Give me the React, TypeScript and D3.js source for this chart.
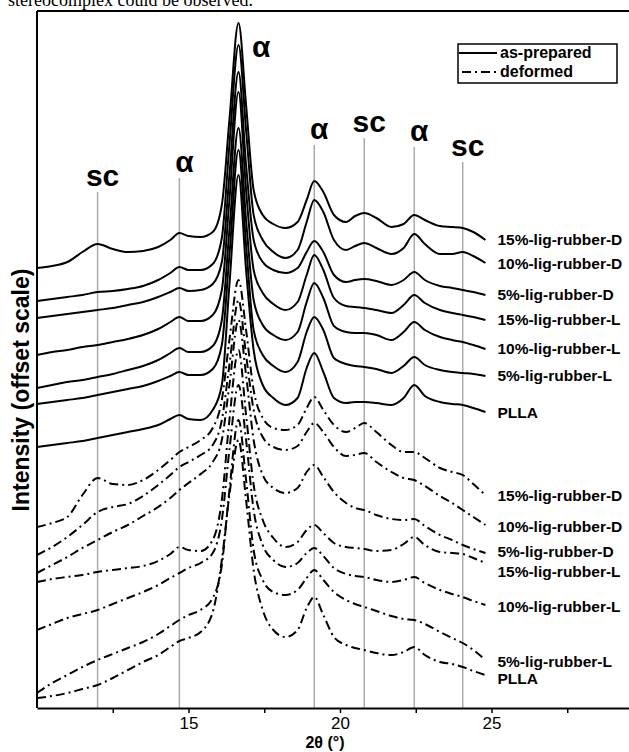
import React, { useEffect, useRef } from 'react';
import * as d3 from 'd3';

// 2θ sampling positions (degrees) shared by every pattern
const twoTheta = [10, 10.5, 11, 11.5, 12, 12.5, 13, 13.5, 14, 14.4, 14.7, 15, 15.4, 15.8, 16.1, 16.35, 16.65, 16.9, 17.15, 17.45, 17.8, 18.2, 18.6, 18.9, 19.15, 19.45, 19.8, 20.2, 20.5, 20.8, 21.2, 21.7, 22.1, 22.45, 22.8, 23.3, 23.7, 24.05, 24.4, 24.8];

// as-prepared patterns (offset intensity, a.u.)
const prep15D = [440, 442, 446, 456, 464, 459, 456, 457, 461, 468, 475, 472, 471, 476, 503, 588, 685, 603, 518, 493, 484, 480, 486, 508, 527, 516, 493, 486, 492, 495, 490, 481, 484, 493, 488, 482, 481, 480, 476, 468];
const prep10D = [407, 409, 411, 413, 416, 417, 419, 422, 428, 435, 441, 438, 438, 444, 470, 563, 663, 578, 493, 468, 456, 450, 458, 486, 508, 496, 468, 458, 462, 465, 460, 454, 460, 474, 464, 454, 454, 456, 452, 445];
const prep5D = [390, 392, 394, 396, 398, 400, 403, 406, 411, 416, 420, 417, 418, 424, 446, 533, 636, 543, 468, 446, 438, 435, 440, 456, 467, 456, 433, 426, 428, 429, 427, 423, 428, 436, 428, 422, 420, 418, 416, 413];
const prep15L = [353, 356, 358, 361, 363, 366, 369, 373, 379, 386, 391, 387, 387, 393, 418, 508, 616, 518, 438, 415, 404, 398, 406, 433, 453, 438, 410, 402, 401, 400, 398, 395, 403, 413, 405, 398, 395, 393, 391, 388];
const prep10L = [320, 323, 326, 328, 331, 334, 338, 342, 348, 355, 360, 356, 356, 362, 388, 478, 580, 488, 408, 383, 373, 368, 376, 406, 425, 410, 382, 376, 375, 375, 373, 368, 376, 386, 378, 371, 368, 366, 363, 359];
const prep5L = [304, 306, 308, 310, 313, 316, 319, 322, 327, 332, 336, 333, 333, 339, 363, 453, 558, 463, 378, 353, 342, 336, 346, 376, 391, 378, 350, 344, 342, 341, 339, 335, 342, 351, 343, 338, 336, 335, 334, 332];
const prepPLLA = [261, 263, 265, 267, 270, 273, 276, 279, 283, 289, 293, 289, 288, 298, 323, 423, 533, 438, 358, 323, 310, 303, 310, 340, 355, 336, 310, 305, 306, 306, 305, 303, 310, 323, 312, 306, 304, 303, 300, 296];

// deformed patterns
const def15D = [181, 185, 191, 213, 230, 224, 223, 228, 238, 248, 256, 261, 268, 280, 308, 368, 428, 378, 318, 290, 280, 278, 283, 300, 311, 298, 283, 276, 280, 285, 276, 263, 256, 256, 250, 240, 236, 233, 224, 213];
const def10D = [153, 161, 171, 183, 196, 201, 204, 212, 223, 233, 241, 246, 253, 263, 288, 343, 408, 353, 298, 271, 261, 258, 262, 276, 285, 276, 261, 252, 253, 255, 246, 236, 230, 228, 222, 212, 205, 198, 191, 183];
const def5D = [135, 143, 151, 160, 168, 176, 183, 192, 201, 210, 218, 225, 234, 246, 268, 323, 388, 333, 268, 233, 220, 215, 220, 236, 243, 231, 216, 205, 200, 198, 193, 189, 188, 189, 182, 173, 168, 163, 159, 155];
const def15L = [126, 129, 131, 133, 136, 138, 140, 142, 147, 154, 161, 158, 157, 168, 208, 288, 358, 293, 223, 188, 170, 161, 166, 178, 183, 175, 165, 161, 160, 159, 157, 158, 164, 171, 163, 156, 155, 154, 150, 145];
const def10L = [78, 84, 90, 94, 98, 104, 110, 116, 123, 130, 135, 140, 145, 155, 188, 258, 323, 268, 198, 163, 148, 141, 145, 155, 160, 152, 140, 134, 132, 131, 128, 126, 128, 131, 125, 118, 114, 111, 107, 103];
const def5L = [15, 25, 33, 41, 48, 54, 60, 66, 74, 82, 88, 93, 98, 110, 143, 218, 288, 228, 158, 128, 116, 113, 118, 130, 138, 128, 116, 108, 104, 101, 97, 92, 89, 88, 84, 76, 70, 65, 58, 48];
const defPLLA = [10, 12, 15, 19, 23, 30, 38, 46, 53, 61, 67, 70, 76, 96, 148, 213, 268, 208, 138, 98, 78, 71, 78, 100, 111, 93, 71, 63, 60, 58, 55, 53, 56, 61, 53, 46, 44, 41, 37, 33];

const sampleNames = ['15%-lig-rubber-D', '10%-lig-rubber-D', '5%-lig-rubber-D', '15%-lig-rubber-L', '10%-lig-rubber-L', '5%-lig-rubber-L', 'PLLA'];
const preparedSeries = [prep15D, prep10D, prep5D, prep15L, prep10L, prep5L, prepPLLA];
const deformedSeries = [def15D, def10D, def5D, def15L, def10L, def5L, defPLLA];
// small vertical nudges (px) so the end labels don't collide
const preparedNudge = [0, 1, 0, 0, 0, 0, 1];
const deformedNudge = [1, 2, -1, 9, 2, 2, 4];

// reflection markers
const markerPos = [12.0, 14.7, 19.15, 20.8, 22.45, 24.05];
const markerLabel = ['sc', 'α', 'α', 'sc', 'α', 'sc'];
const markerTop = [516, 530, 563, 570, 561, 546];
const mainPeak = { pos: 17.4, label: 'α', height: 651 };

const xTicks = [15, 20, 25];
const xMinorTicks = [12.5, 17.5, 22.5, 27.5];

export default function App() {
  const svgRef = useRef<SVGSVGElement>(null);

  useEffect(() => {
    const svg = d3.select(svgRef.current);
    svg.selectAll('*').remove();

    const sans = '"Liberation Sans", Arial, sans-serif';
    const x = d3.scaleLinear().domain([10, 30]).range([37, 643]);
    const y = d3.scaleLinear().domain([0, 697]).range([708, 11]);

    // text of the page above the figure
    svg.append('text')
      .attr('x', 8).attr('y', 6)
      .style('font-family', '"Liberation Serif", "Times New Roman", serif')
      .style('font-size', '18px')
      .text('stereocomplex could be observed.');

    // grey reference lines + labels
    const mk = svg.append('g');
    markerPos.forEach((p, i) => {
      mk.append('line')
        .attr('x1', x(p)).attr('x2', x(p))
        .attr('y1', y(markerTop[i])).attr('y2', y(0))
        .attr('stroke', '#ababab').attr('stroke-width', 1.5);
      mk.append('text')
        .attr('x', x(p) + 5).attr('y', y(markerTop[i]) - 6)
        .attr('text-anchor', 'middle')
        .style('font-family', sans).style('font-weight', 'bold').style('font-size', '30px')
        .text(markerLabel[i]);
    });
    mk.append('text')
      .attr('x', x(mainPeak.pos)).attr('y', y(mainPeak.height))
      .attr('text-anchor', 'middle')
      .style('font-family', sans).style('font-weight', 'bold').style('font-size', '30px')
      .text(mainPeak.label);

    const line = d3.line<number>()
      .x((_, i) => x(twoTheta[i]))
      .y(d => y(d))
      .curve(d3.curveMonotoneX);

    const curves = svg.append('g').attr('fill', 'none').attr('stroke', '#000').attr('stroke-width', 2);
    preparedSeries.forEach(s => curves.append('path').attr('d', line(s)));
    deformedSeries.forEach(s => curves.append('path').attr('d', line(s)).attr('stroke-dasharray', '9,4,2,4'));

    // end labels
    const labels = svg.append('g')
      .style('font-family', sans).style('font-weight', 'bold').style('font-size', '15.5px');
    const lastX = x(twoTheta[twoTheta.length - 1]) + 12;
    preparedSeries.forEach((s, i) => {
      labels.append('text').attr('x', lastX).attr('y', y(s[s.length - 1]) + preparedNudge[i]).attr('dy', '0.35em').text(sampleNames[i]);
    });
    deformedSeries.forEach((s, i) => {
      labels.append('text').attr('x', lastX).attr('y', y(s[s.length - 1]) + deformedNudge[i]).attr('dy', '0.35em').text(sampleNames[i]);
    });

    // frame: left axis and top border
    svg.append('line').attr('x1', x(10)).attr('x2', x(10)).attr('y1', y(697)).attr('y2', y(0))
      .attr('stroke', '#000').attr('stroke-width', 2);
    svg.append('line').attr('x1', x(10)).attr('x2', x(30)).attr('y1', y(697)).attr('y2', y(697))
      .attr('stroke', '#000').attr('stroke-width', 2);

    // x axis
    const xAxis = d3.axisBottom(x).tickValues(xTicks).tickSize(5).tickSizeOuter(0).tickPadding(4).tickFormat(d3.format('d'));
    const ax = svg.append('g').attr('transform', `translate(0,${y(0)})`).call(xAxis);
    ax.select('.domain').attr('stroke-width', 2);
    ax.selectAll('.tick line').attr('stroke-width', 1.5);
    ax.selectAll('.tick text').style('font-family', sans).style('font-size', '17px');
    const minor = d3.axisBottom(x).tickValues(xMinorTicks).tickSize(5).tickSizeOuter(0).tickFormat(() => '');
    const mn = svg.append('g').attr('transform', `translate(0,${y(0)})`).call(minor);
    mn.select('.domain').remove();
    mn.selectAll('.tick line').attr('stroke-width', 1.5);

    svg.append('text')
      .attr('x', 325).attr('y', 748).attr('text-anchor', 'middle')
      .style('font-family', sans).style('font-weight', 'bold').style('font-size', '16px')
      .text('2θ (°)');

    svg.append('text')
      .attr('transform', 'translate(29,390) rotate(-90)')
      .attr('text-anchor', 'middle')
      .style('font-family', sans).style('font-weight', 'bold').style('font-size', '23px')
      .text('Intensity (offset scale)');

    // legend
    const lg = svg.append('g');
    lg.append('rect').attr('x', 458).attr('y', 44).attr('width', 159).attr('height', 39)
      .attr('fill', '#fff').attr('stroke', '#000').attr('stroke-width', 1.5);
    lg.append('line').attr('x1', 459).attr('x2', 497).attr('y1', 53).attr('y2', 53)
      .attr('stroke', '#000').attr('stroke-width', 2);
    lg.append('line').attr('x1', 462).attr('x2', 497).attr('y1', 72).attr('y2', 72)
      .attr('stroke', '#000').attr('stroke-width', 2).attr('stroke-dasharray', '9,4,2,4');
    lg.append('text').attr('x', 500).attr('y', 58)
      .style('font-family', sans).style('font-weight', 'bold').style('font-size', '16px').text('as-prepared');
    lg.append('text').attr('x', 500).attr('y', 77)
      .style('font-family', sans).style('font-weight', 'bold').style('font-size', '16px').text('deformed');
  }, []);

  return (
    <svg ref={svgRef} width={629} height={752}
      style={{ position: 'absolute', left: 0, top: 0, background: '#fff' }} />
  );
}
